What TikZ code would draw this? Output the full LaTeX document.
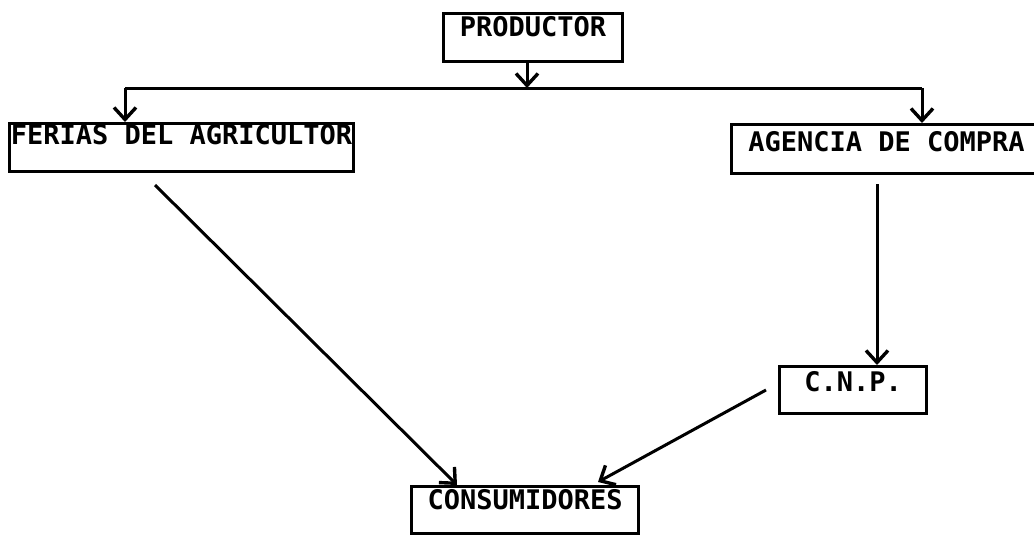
\documentclass[tikz,border=0pt]{standalone}
\usepackage{fontspec}
\newfontfamily\typ{DejaVu Sans Mono}
\usetikzlibrary{arrows.meta,calc}
\tikzset{
  box/.style={draw, line width=3.2pt, inner sep=0pt, font=\typ\bfseries\fontsize{27}{27}\selectfont, anchor=north west},
  conn/.style={line width=3pt},
  arr/.style={conn, -{Straight Barb[length=12pt,width=22pt,line width=3.4pt]}}
}
\begin{document}
\begin{tikzpicture}[x=1pt,y=-1pt]
\useasboundingbox (0,0) rectangle (1034,541);
\clip (0,0) rectangle (1034,541);
% boxes (north west corner, width, height)
\node[box, minimum width=179pt, text height=23pt, text depth=25pt] (prod) at (442,12) {PRODUCTOR};
\node[box, minimum width=344pt, text height=21pt, text depth=27pt] (fer) at (8,122) {FERIAS DEL AGRICULTOR};
\node[box, minimum width=310pt, text height=27pt, text depth=22pt] (age) at (730,123) {AGENCIA DE COMPRA};
\node[box, minimum width=147pt, text height=25pt, text depth=22pt] (cnp) at (778,365) {C.N.P.};
\node[box, minimum width=227pt, text height=23pt, text depth=24pt] (cons) at (410,485) {CONSUMIDORES};
% junction coordinates
\coordinate (j) at (527,88);
\coordinate (L) at (125,88);
\coordinate (R) at (922,88);
\coordinate (a1) at (877,184);
\coordinate (f1) at (155,185);
\coordinate (f2) at (457,485);
\coordinate (c1) at (766,390);
\coordinate (c2) at (598,482);
% connectors
\draw[arr] (j |- prod.south) -- (j);
\draw[conn] (L) -- (R);
\draw[arr] (L) -- (L |- fer.north);
\draw[arr] (R) -- (R |- age.north);
\draw[arr] (a1) -- (a1 |- cnp.north);
\draw[arr] (f1) -- (f2);
\draw[arr] (c1) -- (c2);
\end{tikzpicture}
\end{document}
